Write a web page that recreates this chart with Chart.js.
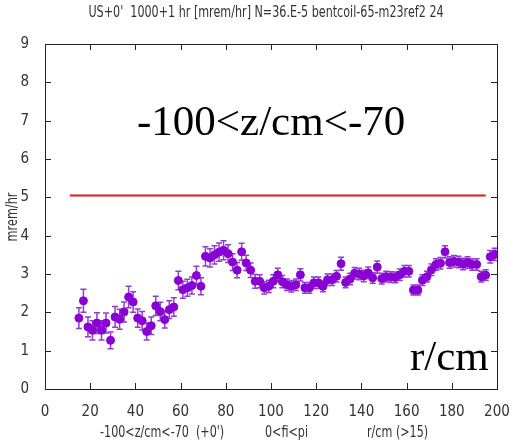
<!DOCTYPE html>
<html>
<head>
<meta charset="utf-8">
<script src="https://cdn.jsdelivr.net/npm/chart.js@4"></script>
<style>
  html, body { margin: 0; padding: 0; background: #fff; }
  #wrap { width: 510px; height: 445px; }
</style>
</head>
<body>
<div id="wrap"><canvas id="doseChart" width="510" height="445"></canvas></div>
<script>
// radial positions (cm)
const radii = [
  15, 17, 19, 21, 23, 25, 27, 29, 31, 33, 35, 37, 39, 41, 43,
  45, 47, 49, 51, 53, 55, 57, 59, 61, 63, 65, 67, 69, 71, 73,
  75, 77, 79, 81, 83, 85, 87, 89, 91, 93, 95, 97, 99, 101, 103,
  105, 107, 109, 111, 113, 115, 117, 119, 121, 123, 125, 127, 129, 131, 133,
  135, 137, 139, 141, 143, 145, 147, 149, 151, 153, 155, 157, 159, 161, 163,
  165, 167, 169, 171, 173, 175, 177, 179, 181, 183, 185, 187, 189, 191, 193,
  195, 197, 199
];
// dose rate (mrem/hr)
const doseRate = [
  1.85, 2.30, 1.62, 1.53, 1.72, 1.53, 1.72, 1.27, 1.88, 1.82, 2.01, 2.40, 2.27, 1.85, 1.78,
  1.50, 1.65, 2.17, 2.02, 1.81, 2.07, 2.14, 2.83, 2.59, 2.64, 2.70, 2.96, 2.68, 3.46, 3.42,
  3.50, 3.57, 3.62, 3.53, 3.31, 3.10, 3.58, 3.29, 3.10, 2.81, 2.81, 2.64, 2.68, 2.81, 2.98,
  2.80, 2.72, 2.68, 2.72, 2.98, 2.64, 2.64, 2.77, 2.77, 2.68, 2.85, 2.85, 2.94, 3.27, 2.78,
  2.87, 3.02, 3.00, 2.95, 3.03, 2.90, 3.18, 2.88, 2.93, 2.92, 2.91, 2.98, 3.07, 3.07, 2.58,
  2.58, 2.84, 2.93, 3.11, 3.25, 3.28, 3.58, 3.30, 3.33, 3.31, 3.26, 3.30, 3.25, 3.25, 2.93,
  2.97, 3.45, 3.51
];
// statistical error on each point
const doseErr = [
  0.27, 0.30, 0.26, 0.25, 0.27, 0.25, 0.26, 0.22, 0.27, 0.26, 0.26, 0.28, 0.27, 0.24, 0.24,
  0.22, 0.23, 0.25, 0.24, 0.22, 0.23, 0.24, 0.24, 0.22, 0.22, 0.22, 0.24, 0.22, 0.25, 0.24,
  0.24, 0.24, 0.25, 0.23, 0.22, 0.20, 0.22, 0.20, 0.19, 0.18, 0.17, 0.16, 0.16, 0.17, 0.17,
  0.16, 0.15, 0.15, 0.15, 0.16, 0.14, 0.14, 0.15, 0.15, 0.14, 0.15, 0.15, 0.15, 0.17, 0.14,
  0.15, 0.15, 0.15, 0.15, 0.15, 0.14, 0.16, 0.14, 0.14, 0.14, 0.14, 0.15, 0.15, 0.15, 0.13,
  0.13, 0.14, 0.14, 0.15, 0.15, 0.15, 0.16, 0.15, 0.15, 0.15, 0.15, 0.15, 0.15, 0.15, 0.14,
  0.14, 0.16, 0.16
];
// reference level drawn as the red line
const limitR = [11, 195];
const limitLevel = 5.05;

const titleText = "US+0'  1000+1 hr [mrem/hr] N=36.E-5 bentcoil-65-m23ref2 24";
const xLabelParts = ["-100<z/cm<-70  (+0')", "0<fi<pi", "r/cm (>15)"];
const yLabel = "mrem/hr";
const zoneText = "-100<z/cm<-70";
const axisNote = "r/cm";

const points = radii.map((r, i) => ({ x: r, y: doseRate[i] }));
const limitLine = limitR.map((r) => ({ x: r, y: limitLevel }));

// narrow sans text, squeezed sideways like the gnuplot output
function squeezedText(ctx, text, x, y, size, align) {
  ctx.save();
  ctx.translate(x, y);
  ctx.scale(0.72, 1);
  ctx.font = size + "px 'DejaVu Sans'";
  ctx.textAlign = align || "center";
  ctx.textBaseline = "middle";
  ctx.fillStyle = "#333";
  ctx.fillText(text, 0, 0);
  ctx.restore();
}

// vertical error bars with caps
const errorBars = {
  id: "errorBars",
  beforeDatasetsDraw(chart) {
    const ctx = chart.ctx;
    const xs = chart.scales.x;
    const ys = chart.scales.y;
    ctx.save();
    ctx.strokeStyle = "#8f3fcf";
    ctx.lineWidth = 1.5;
    radii.forEach((r, i) => {
      const px = xs.getPixelForValue(r);
      const top = ys.getPixelForValue(doseRate[i] + doseErr[i]);
      const bot = ys.getPixelForValue(doseRate[i] - doseErr[i]);
      ctx.beginPath();
      ctx.moveTo(px, top);
      ctx.lineTo(px, bot);
      ctx.moveTo(px - 3, top);
      ctx.lineTo(px + 3, top);
      ctx.moveTo(px - 3, bot);
      ctx.lineTo(px + 3, bot);
      ctx.stroke();
    });
    ctx.restore();
  }
};

// box, inward ticks on all four sides, and the text labels
const frameAndText = {
  id: "frameAndText",
  afterDraw(chart) {
    const ctx = chart.ctx;
    const a = chart.chartArea;
    const xs = chart.scales.x;
    const ys = chart.scales.y;
    ctx.save();
    ctx.strokeStyle = "#222";
    ctx.lineWidth = 1;
    ctx.strokeRect(a.left + 0.5, a.top + 0.5, a.right - a.left, a.bottom - a.top);
    ctx.beginPath();
    xs.ticks.forEach((t) => {
      const px = Math.round(xs.getPixelForValue(t.value)) + 0.5;
      ctx.moveTo(px, a.bottom);
      ctx.lineTo(px, a.bottom - 6);
      ctx.moveTo(px, a.top);
      ctx.lineTo(px, a.top + 6);
    });
    ys.ticks.forEach((t) => {
      const py = Math.round(ys.getPixelForValue(t.value)) + 0.5;
      ctx.moveTo(a.left, py);
      ctx.lineTo(a.left + 6, py);
      ctx.moveTo(a.right, py);
      ctx.lineTo(a.right - 6, py);
    });
    ctx.stroke();

    squeezedText(ctx, titleText, 266, 13, 15.5);
    squeezedText(ctx, xLabelParts[0], 100, 433, 15.5, "left");
    squeezedText(ctx, xLabelParts[1], 265, 433, 15.5, "left");
    squeezedText(ctx, xLabelParts[2], 367, 433, 15.5, "left");

    ctx.save();
    ctx.translate(13, 217);
    ctx.rotate(-Math.PI / 2);
    ctx.scale(0.75, 1);
    ctx.font = "15px 'DejaVu Sans'";
    ctx.textAlign = "center";
    ctx.textBaseline = "middle";
    ctx.fillStyle = "#333";
    ctx.fillText(yLabel, 0, 0);
    ctx.restore();

    ctx.fillStyle = "#000";
    ctx.font = "43px 'Liberation Serif'";
    ctx.textAlign = "left";
    ctx.textBaseline = "alphabetic";
    ctx.fillText(zoneText, 137, 135);
    ctx.fillText(axisNote, 410, 370);
    ctx.restore();
  }
};

const tickFont = { family: "'DejaVu Sans Condensed', Roboto, sans-serif", size: 15 };

new Chart(document.getElementById("doseChart"), {
  type: "scatter",
  data: {
    datasets: [
      {
        label: "dose",
        data: points,
        backgroundColor: "#8a00d4",
        borderColor: "#8a00d4",
        pointRadius: 4,
        pointHoverRadius: 4
      },
      {
        type: "line",
        label: "limit",
        data: limitLine,
        borderColor: "#e8141c",
        borderWidth: 2,
        pointRadius: 0,
        fill: false
      }
    ]
  },
  options: {
    responsive: false,
    animation: false,
    events: [],
    layout: { padding: { left: 0, right: 13, top: 44, bottom: 0 } },
    plugins: { legend: { display: false }, tooltip: { enabled: false } },
    scales: {
      x: {
        type: "linear",
        min: 0,
        max: 200,
        grid: { display: false },
        border: { display: false },
        ticks: { stepSize: 20, color: "#333", font: tickFont, padding: 6, maxRotation: 0 },
        afterFit: (scale) => {
          scale.height = 56;
          scale.paddingLeft = 0;
          scale.paddingRight = 0;
        }
      },
      y: {
        min: 0,
        max: 9,
        grid: { display: false },
        border: { display: false },
        ticks: { stepSize: 1, color: "#333", font: tickFont, padding: 8 },
        afterFit: (scale) => {
          scale.width = 45;
          scale.paddingTop = 0;
          scale.paddingBottom = 0;
        }
      }
    }
  },
  plugins: [errorBars, frameAndText]
});
</script>
</body>
</html>
